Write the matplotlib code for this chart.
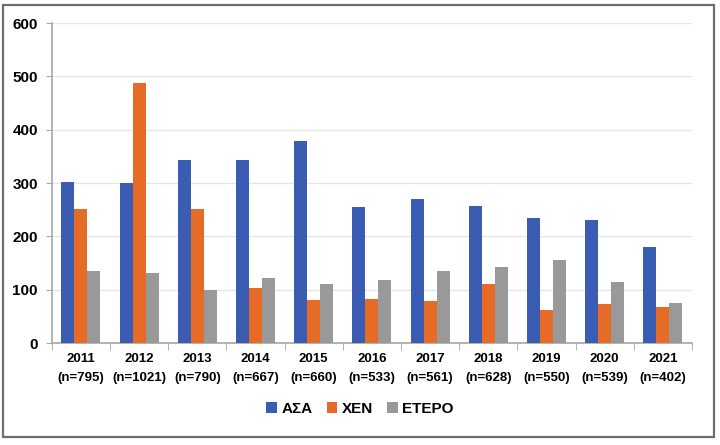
import matplotlib.pyplot as plt
import numpy as np
from matplotlib.patches import Rectangle

years = ["2011", "2012", "2013", "2014", "2015", "2016", "2017", "2018", "2019", "2020", "2021"]
n_counts = [795, 1021, 790, 667, 660, 533, 561, 628, 550, 539, 402]
asa = [302, 300, 344, 344, 379, 256, 270, 258, 234, 230, 181]
xen = [251, 487, 251, 104, 80, 82, 79, 110, 62, 73, 67]
etero = [135, 131, 100, 122, 111, 119, 135, 142, 155, 115, 76]
series_names = ["ΑΣΑ", "ΧΕΝ", "ΕΤΕΡΟ"]
series_colors = ["#3A5DB3", "#E56B26", "#999999"]

plt.rcParams["font.family"] = ["Liberation Sans", "DejaVu Sans"]
plt.rcParams["font.weight"] = "bold"

fig = plt.figure(figsize=(7.2, 4.45), dpi=100)
ax = fig.add_axes([0.072, 0.229, 0.889, 0.719])

# picture frame
fig.patches.append(Rectangle((0.004, 0.018), 0.988, 0.971, transform=fig.transFigure,
                             fill=False, edgecolor="#6E6E6E", linewidth=1.6))

x = np.arange(len(years))
w = 0.224
for i, (vals, name, col) in enumerate(zip([asa, xen, etero], series_names, series_colors)):
    ax.bar(x + (i - 1) * w, vals, width=w, color=col, label=name, zorder=3)

ax.set_xlim(-0.5, len(years) - 0.5)
ax.set_ylim(0, 600)
ax.set_yticks(range(0, 601, 100))
ax.tick_params(axis="y", labelsize=11, length=4, color="#A6A6A6", pad=6)
ax.grid(axis="y", color="#E6E6E6", linewidth=1, zorder=0)

ax.set_xticks(x)
ax.set_xticklabels([f"{y}\n(n={n})" for y, n in zip(years, n_counts)], fontsize=9.5,
                   linespacing=1.75)
ax.tick_params(axis="x", length=0, pad=7)
ax.set_xticks(np.arange(-0.5, len(years)), minor=True)
ax.tick_params(axis="x", which="minor", length=5, color="#A6A6A6")

for s in ["top", "right"]:
    ax.spines[s].set_visible(False)
for s in ["left", "bottom"]:
    ax.spines[s].set_color("#A6A6A6")
    ax.spines[s].set_linewidth(1.2)

fig.legend(loc="center", bbox_to_anchor=(0.5, 0.082), ncol=3, frameon=False,
           fontsize=11, handlelength=0.7, handleheight=0.7, handletextpad=0.3,
           columnspacing=0.9)

fig.savefig("out.png", dpi=100)
